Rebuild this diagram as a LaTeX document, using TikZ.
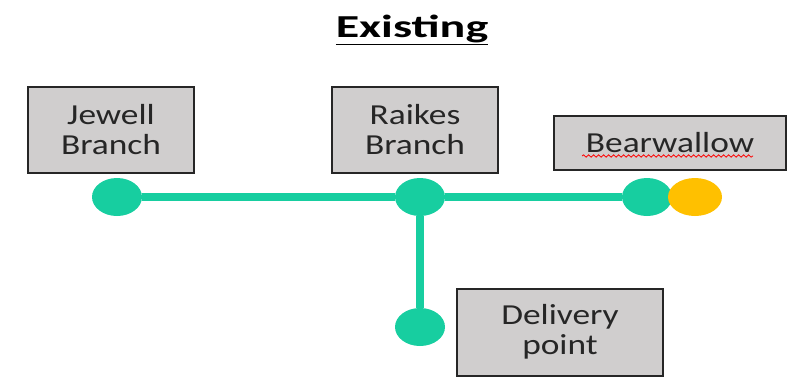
\documentclass[tikz,border=0pt]{standalone}
\usepackage{fontspec}
\setmainfont[FakeStretch=1.22]{Carlito}
\newfontfamily\titlefont[FakeStretch=1.5]{Carlito}
\usetikzlibrary{shapes.geometric,decorations.pathmorphing}
\definecolor{Pipe}{HTML}{17CEA0}
\definecolor{Meter}{HTML}{FFC000}
\definecolor{BoxFill}{HTML}{D0CECE}
\definecolor{Ink}{HTML}{262626}

\begin{document}
\begin{tikzpicture}[x=1pt,y=-1pt]
  \tikzset{
    sitebox/.style={draw=Ink,line width=2pt,fill=BoxFill,align=center,
      font=\fontsize{29}{30}\selectfont,text=Ink,inner sep=0pt},
    joint/.style={ellipse,fill=Pipe,minimum width=50,minimum height=38,inner sep=0pt},
    pipe/.style={Pipe,line width=8pt}
  }
  \useasboundingbox (0,0) rectangle (795,383);
  % title
  \node[font=\titlefont\bfseries\fontsize{32}{34}\selectfont,anchor=base] (title) at (412,37) {\underline{Existing}};
  % boxes
  \node[sitebox,minimum width=166,minimum height=86] (jewell) at (111,130) {Jewell\\Branch};
  \node[sitebox,minimum width=166,minimum height=86] (raikes) at (415,130) {Raikes\\Branch};
  \node[sitebox,minimum width=232,minimum height=54] (bear) at (670,143) {Bearwallow};
  \node[sitebox,minimum width=206,minimum height=87] (deliv) at (560,332) {Delivery\\point};
  \draw[red,line width=0.8pt,decorate,decoration={snake,amplitude=1.2pt,segment length=5pt}]
    (582,156) -- (753,156);
  % network
  \node[joint] (jw) at (117,197) {};
  \node[joint] (rk) at (420,197) {};
  \node[joint] (bw) at (647,197) {};
  \node[joint] (dp) at (420,327) {};
  \node[ellipse,fill=Meter,minimum width=54,minimum height=38,inner sep=0pt] (ye) at (695,197) {};
  \draw[pipe] (jw) -- (rk);
  \draw[pipe] (rk) -- (bw);
  \draw[pipe] (rk) -- (dp);
\end{tikzpicture}
\end{document}
